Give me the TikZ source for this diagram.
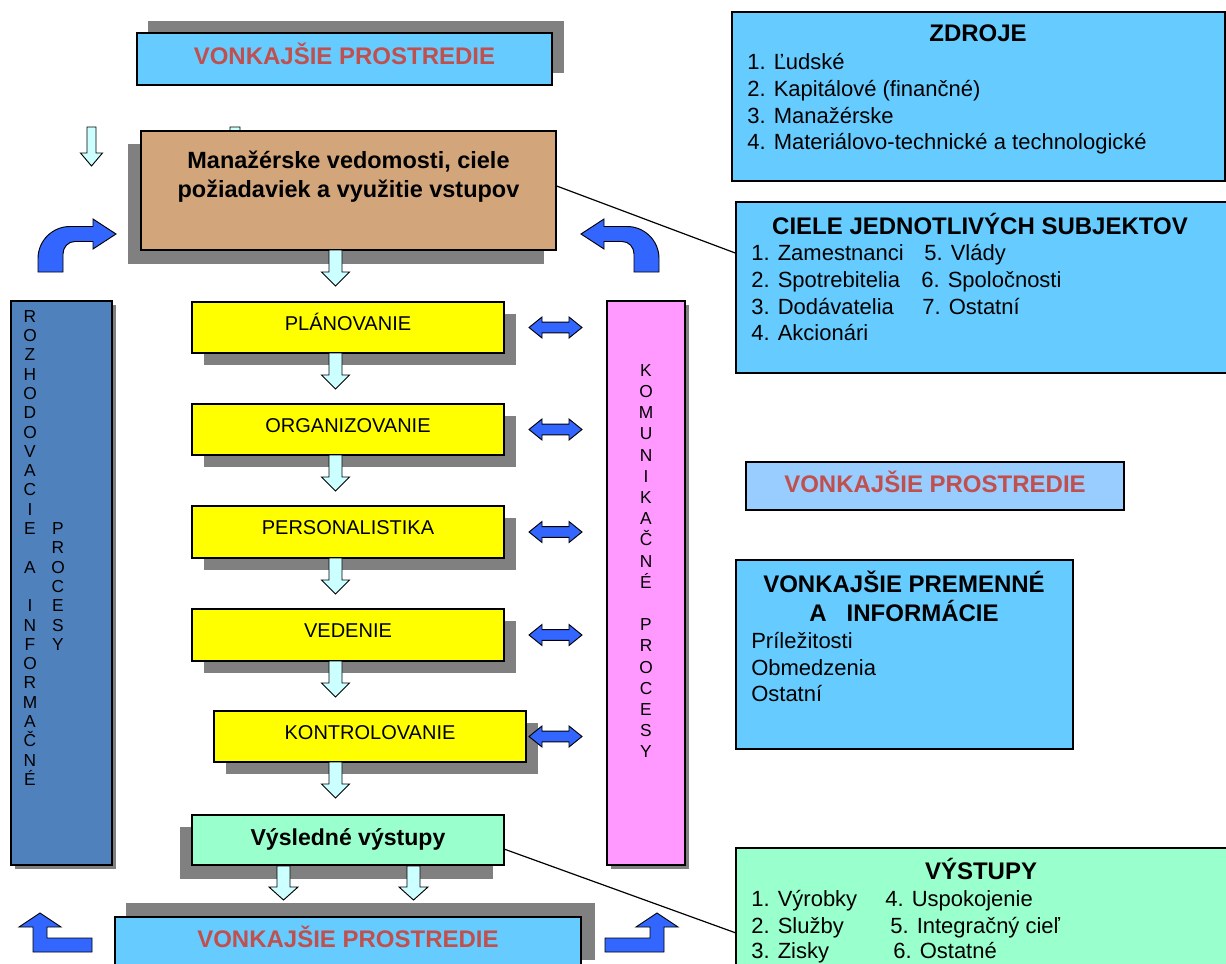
\documentclass[tikz,border=0pt]{standalone}
\usepackage{fontspec}
\setmainfont{Liberation Sans}
\usetikzlibrary{fit,calc}
\definecolor{skyb}{RGB}{102,204,255}
\definecolor{paleb}{RGB}{153,204,255}
\definecolor{mintg}{RGB}{153,255,204}
\definecolor{tanbox}{RGB}{210,166,122}
\definecolor{steelb}{RGB}{79,129,189}
\definecolor{pinkb}{RGB}{255,153,255}
\definecolor{yelb}{RGB}{255,255,0}
\definecolor{vpred}{RGB}{192,80,77}
\definecolor{shade}{RGB}{128,128,128}
\definecolor{cyanl}{RGB}{204,255,255}
\definecolor{arrblue}{RGB}{51,102,255}
\tikzset{
  box/.style={draw=black, line width=1.1pt, inner sep=0pt, outer sep=0pt},
  shd/.style={fill=shade},
  arrline/.style={draw=black, line width=0.7pt},
  conn/.style={draw=black, line width=0.9pt},
  vptxt/.style={font=\bfseries\fontsize{18}{21}\selectfont, text=vpred, anchor=base, inner sep=0pt},
  ttl/.style={font=\bfseries\fontsize{18}{21}\selectfont, anchor=base, inner sep=0pt},
  itm/.style={font=\fontsize{16.5}{20}\selectfont, anchor=base west, inner sep=0pt},
  ytxt/.style={font=\fontsize{15}{18}\selectfont, anchor=base, inner sep=0pt},
  btxt/.style={font=\bfseries\fontsize{17.6}{21}\selectfont, anchor=base, inner sep=0pt},
  ltr/.style={font=\fontsize{13}{15}\selectfont, inner sep=0pt, text height=9.3pt, text depth=0pt},
  pics/darr/.style n args={4}{code={
    \draw[arrline, fill=cyanl] (-#1,0) -- (#1,0) -- (#1,#3) -- (#2,#3) -- (0,#3+#4) -- (-#2,#3) -- (-#1,#3) -- cycle;
  }},
  pics/dblarr/.style={code={
    \draw[arrline, fill=arrblue] (-26.5,0) -- (-13.5,-10.5) -- (-13.5,-5.3) -- (13.5,-5.3) -- (13.5,-10.5) -- (26.5,0) -- (13.5,10.5) -- (13.5,5.3) -- (-13.5,5.3) -- (-13.5,10.5) -- cycle;
  }},
  pics/curvarr/.style={code={
    \draw[arrline, fill=arrblue] (0,0) -- (23,-15) -- (23,-7.5) -- (46,-7.5) .. controls (63.7,-7.5) and (78,6.8) .. (78,24.5) -- (78,38) -- (53,38) -- (53,20) .. controls (53,13.1) and (47.9,7.5) .. (41,7.5) -- (23,7.5) -- (23,15) -- cycle;
  }},
  pics/larr/.style={code={
    \draw[arrline, fill=arrblue] (0,0) -- (21,14) -- (7,14) -- (7,39) -- (-52,39) -- (-52,25) -- (-7,25) -- (-7,14) -- (-21,14) -- cycle;
  }}
}
\begin{document}
\begin{tikzpicture}[x=0.75pt,y=-0.75pt]
\useasboundingbox (0,0) rectangle (1226,963);
\clip (0,0) rectangle (1226,963);
\fill[white] (0,0) rectangle (1226,963);

% top external environment
\fill[shd] (148,21) rectangle (564,73);
\node[box, fill=skyb, fit={(137,33) (552,85)}] (vptop) {};

% small arrows above the brown box
\pic at (91.5,127) {darr={4.5}{11}{26}{13}};
\pic at (235,127) {darr={5}{11}{26}{13}};

% brown box
\fill[shd] (128,144) rectangle (544,264);
\node[box, fill=tanbox, fit={(141,131) (556,250)}] (brown) {};

% function boxes
\fill[shd] (204,314) rectangle (516,365);
\node[box, fill=yelb, fit={(192,302) (504,353)}] (plan) {};
\fill[shd] (204,416) rectangle (516,467);
\node[box, fill=yelb, fit={(192,404) (504,455)}] (org) {};
\fill[shd] (204,518) rectangle (516,570);
\node[box, fill=yelb, fit={(192,506) (504,558)}] (pers) {};
\fill[shd] (204,621) rectangle (516,673);
\node[box, fill=yelb, fit={(192,609) (504,661)}] (ved) {};
\fill[shd] (226,723) rectangle (538,774);
\node[box, fill=yelb, fit={(214,711) (526,762)}] (kont) {};

% down arrows between boxes
\pic at (335.5,250) {darr={6.5}{14}{22}{14}};
\pic at (335.5,353) {darr={6.5}{14}{22}{14}};
\pic at (335.5,455) {darr={6.5}{14}{22}{14}};
\pic at (335.5,558) {darr={6.5}{14}{22}{14}};
\pic at (335.5,661) {darr={6.5}{14}{22}{14}};
\pic at (335.5,762) {darr={6.5}{14}{22}{14}};

% side bars
\fill[shd] (15,305) rectangle (116,869);
\node[box, fill=steelb, fit={(11,301) (112,865)}] (leftbar) {};
\fill[shd] (611,305) rectangle (689,869);
\node[box, fill=pinkb, fit={(607,301) (685,865)}] (pinkbar) {};

% double arrows
\pic at (555.5,327.5) {dblarr};
\pic at (555.5,429.5) {dblarr};
\pic at (555.5,532) {dblarr};
\pic at (555.5,635) {dblarr};
\pic at (555.5,736.5) {dblarr};

% curved arrows
\pic at (581,234) {curvarr};
\pic[xscale=-1] at (116,234) {curvarr};

% results box
\fill[shd] (180,827) rectangle (493,879);
\node[box, fill=mintg, fit={(192,815) (504,865)}] (vysl) {};
\pic at (283.5,866) {darr={6.5}{14.5}{21}{13}};
\pic at (413.5,866) {darr={6.5}{14.5}{21}{13}};

% bottom external environment
\fill[shd] (126,903) rectangle (595,960);
\node[box, fill=skyb, fit={(115,917) (581,985)}] (vpbot) {};

% bent arrows at the bottom
\pic at (657,913) {larr};
\pic[xscale=-1] at (40,913) {larr};

% right-hand boxes
\node[box, fill=skyb, fit={(732,12) (1225,181)}] (zdroje) {};
\node[box, fill=skyb, fit={(736,202) (1240,373)}] (ciele) {};
\node[box, fill=paleb, fit={(746,462) (1124,510)}] (vpmid) {};
\node[box, fill=skyb, fit={(736,560) (1073,749)}] (premenne) {};
\node[box, fill=mintg, fit={(736,848) (1240,1000)}] (vystupy) {};

% connectors
\draw[conn] ($(brown.north east)!0.46!(brown.south east)$) -- ($(ciele.north west)!0.3!(ciele.south west)$);
\draw[conn] ($(vysl.north east)!0.68!(vysl.south east)$) -- ($(vystupy.north west)+(0,85)$);

% texts
\node[vptxt] (tvptop) at (344.5,65) {VONKAJŠIE PROSTREDIE};
\node[vptxt] (tvpmid) at (935,492) {VONKAJŠIE PROSTREDIE};
\node[vptxt] (tvpbot) at (348,947) {VONKAJŠIE PROSTREDIE};

\node[btxt] (tbrown1) at (348.5,168.5) {Manažérske vedomosti, ciele};
\node[btxt] (tbrown2) at (348.5,197.5) {požiadaviek a využitie vstupov};

\node[ytxt] (tplan) at (348,330.2) {PLÁNOVANIE};
\node[ytxt] (torg) at (348,432.2) {ORGANIZOVANIE};
\node[ytxt] (tpers) at (348,534.7) {PERSONALISTIKA};
\node[ytxt] (tved) at (348,637.7) {VEDENIE};
\node[ytxt] (tkont) at (370,739.2) {KONTROLOVANIE};

\node[font=\bfseries\fontsize{17.3}{21}\selectfont, anchor=base, inner sep=0pt] (tvysl) at (348,845.3) {Výsledné výstupy};

\foreach \c [count=\i from 0] in {R,O,Z,H,O,D,O,V,A,C,I,E,,A,,I,N,F,O,R,M,A,Č,N,É}
  \node[ltr] (lb\i) at (30,{316+19.3*\i}) {\c};
\foreach \c [count=\i from 0] in {P,R,O,C,E,S,Y}
  \node[ltr] (lp\i) at (58,{528.3+19.3*\i}) {\c};
\foreach \c [count=\i from 0] in {K,O,M,U,N,I,K,A,Č,N,É,,P,R,O,C,E,S,Y}
  \node[ltr] (pk\i) at (646,{370+21.2*\i}) {\c};

\node[ttl] (tzdroje) at (978,41.6) {ZDROJE};
\node[itm] (z1) at (747,70) {1. Ľudské};
\node[itm] (z2) at (747,97) {2. Kapitálové (finančné)};
\node[itm] (z3) at (747,123) {3. Manažérske};
\node[itm] (z4) at (747,150) {4. Materiálovo-technické a technologické};

\node[ttl] (tciele) at (980,234) {CIELE JEDNOTLIVÝCH SUBJEKTOV};
\node[itm] (c1) at (751,260) {1. Zamestnanci};
\node[itm] (c2) at (751,287) {2. Spotrebitelia};
\node[itm] (c3) at (751,314) {3. Dodávatelia};
\node[itm] (c4) at (751,340) {4. Akcionári};
\node[itm] (c5) at (924,260) {5. Vlády};
\node[itm] (c6) at (921,287) {6. Spoločnosti};
\node[itm] (c7) at (922,314) {7. Ostatní};

\node[ttl] (tprem1) at (904,592) {VONKAJŠIE PREMENNÉ};
\node[ttl] (tprem2) at (904,621) {A\ \ \ INFORMÁCIE};
\node[itm] (p1) at (751,648) {Príležitosti};
\node[itm] (p2) at (751,675) {Obmedzenia};
\node[itm] (p3) at (751,701) {Ostatní};

\node[ttl] (tvyst) at (981,879) {VÝSTUPY};
\node[itm] (v1) at (751,906) {1. Výrobky};
\node[itm] (v2) at (751,933) {2. Služby};
\node[itm] (v3) at (751,958) {3. Zisky};
\node[itm] (v4) at (885,906) {4. Uspokojenie};
\node[itm] (v5) at (890,933) {5. Integračný cieľ};
\node[itm] (v6) at (893,958) {6. Ostatné};
\end{tikzpicture}
\end{document}
